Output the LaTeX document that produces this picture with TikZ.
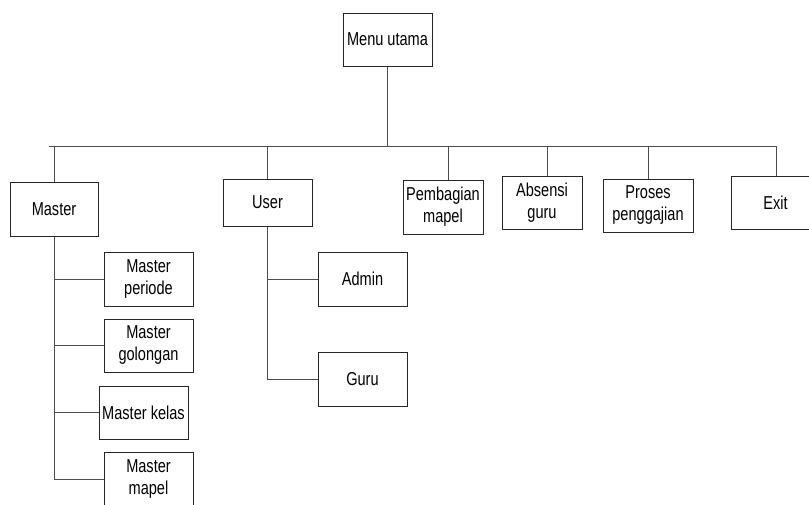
\documentclass[tikz,border=0pt]{standalone}
\usepackage{fontspec}
\setmainfont[FakeStretch=0.78]{Liberation Sans}
\usetikzlibrary{positioning}

\tikzset{
  menubox/.style={draw=black!85, line width=0.75pt, minimum width=66.75pt,
    minimum height=40.5pt, align=center, inner sep=1pt,
    font=\fontsize{14}{16.5}\selectfont},
  link/.style={draw=black!70, line width=0.75pt}
}

\begin{document}
\begin{tikzpicture}[x=0.75pt, y=-0.75pt]
\useasboundingbox (0,0) rectangle (809,504);

% Root
\node[menubox, minimum height=39.75pt] (menu) at (387.5,39.5) {Menu utama};

% First level
\node[menubox, minimum width=66pt] (master) at (54,209) {Master};
\node[menubox, minimum height=35.25pt] (user) at (267.5,202.5) {User};
\node[menubox, minimum width=60pt] (pembagian) at (443,207) {Pembagian\\mapel};
\node[menubox, minimum width=60pt, minimum height=39.75pt] (absensi) at (542,202.5) {Absensi\\guru};
\node[menubox, minimum width=67.5pt, minimum height=39.75pt] (proses) at (648,205.5) {Proses\\penggajian};
\node[menubox, minimum height=39.75pt] (exit) at (775.5,202.5) {Exit};

% Master children
\node[menubox] (mperiode) at (148.5,279) {Master\\periode};
\node[menubox, minimum height=39.75pt] (mgolongan) at (148.5,345.5) {Master\\golongan};
\node[menubox, minimum height=39.75pt] (mkelas) at (143.5,412.5) {Master kelas};
\node[menubox] (mmapel) at (148.5,479) {Master\\mapel};

% User children
\node[menubox] (admin) at (362.5,279) {Admin};
\node[menubox] (guru) at (362.5,379) {Guru};

% Bus
\coordinate (busL) at (49,146);
\coordinate (busR) at (776,146);
\coordinate (dpemb) at (448,146);
\coordinate (dabs) at (547,146);
\coordinate (dexit) at (776,146);

\draw[link] (menu.south) -- (menu.south |- busL);
\draw[link] (busL) -- (busR);
\draw[link] (master.north |- busL) -- (master.north);
\draw[link] (user.north |- busL) -- (user.north);
\draw[link] (dpemb) -- (dpemb |- pembagian.north);
\draw[link] (dabs) -- (dabs |- absensi.north);
\draw[link] (proses.north |- busL) -- (proses.north);
\draw[link] (dexit) -- (dexit |- exit.north);

% Master branch
\draw[link] (master.south) |- (mmapel.west);
\draw[link] (master.south |- mperiode.west) -- (mperiode.west);
\draw[link] (master.south |- mgolongan.west) -- (mgolongan.west);
\draw[link] (master.south |- mkelas.west) -- (mkelas.west);

% User branch
\draw[link] (user.south) |- (guru.west);
\draw[link] (user.south |- admin.west) -- (admin.west);
\end{tikzpicture}
\end{document}
